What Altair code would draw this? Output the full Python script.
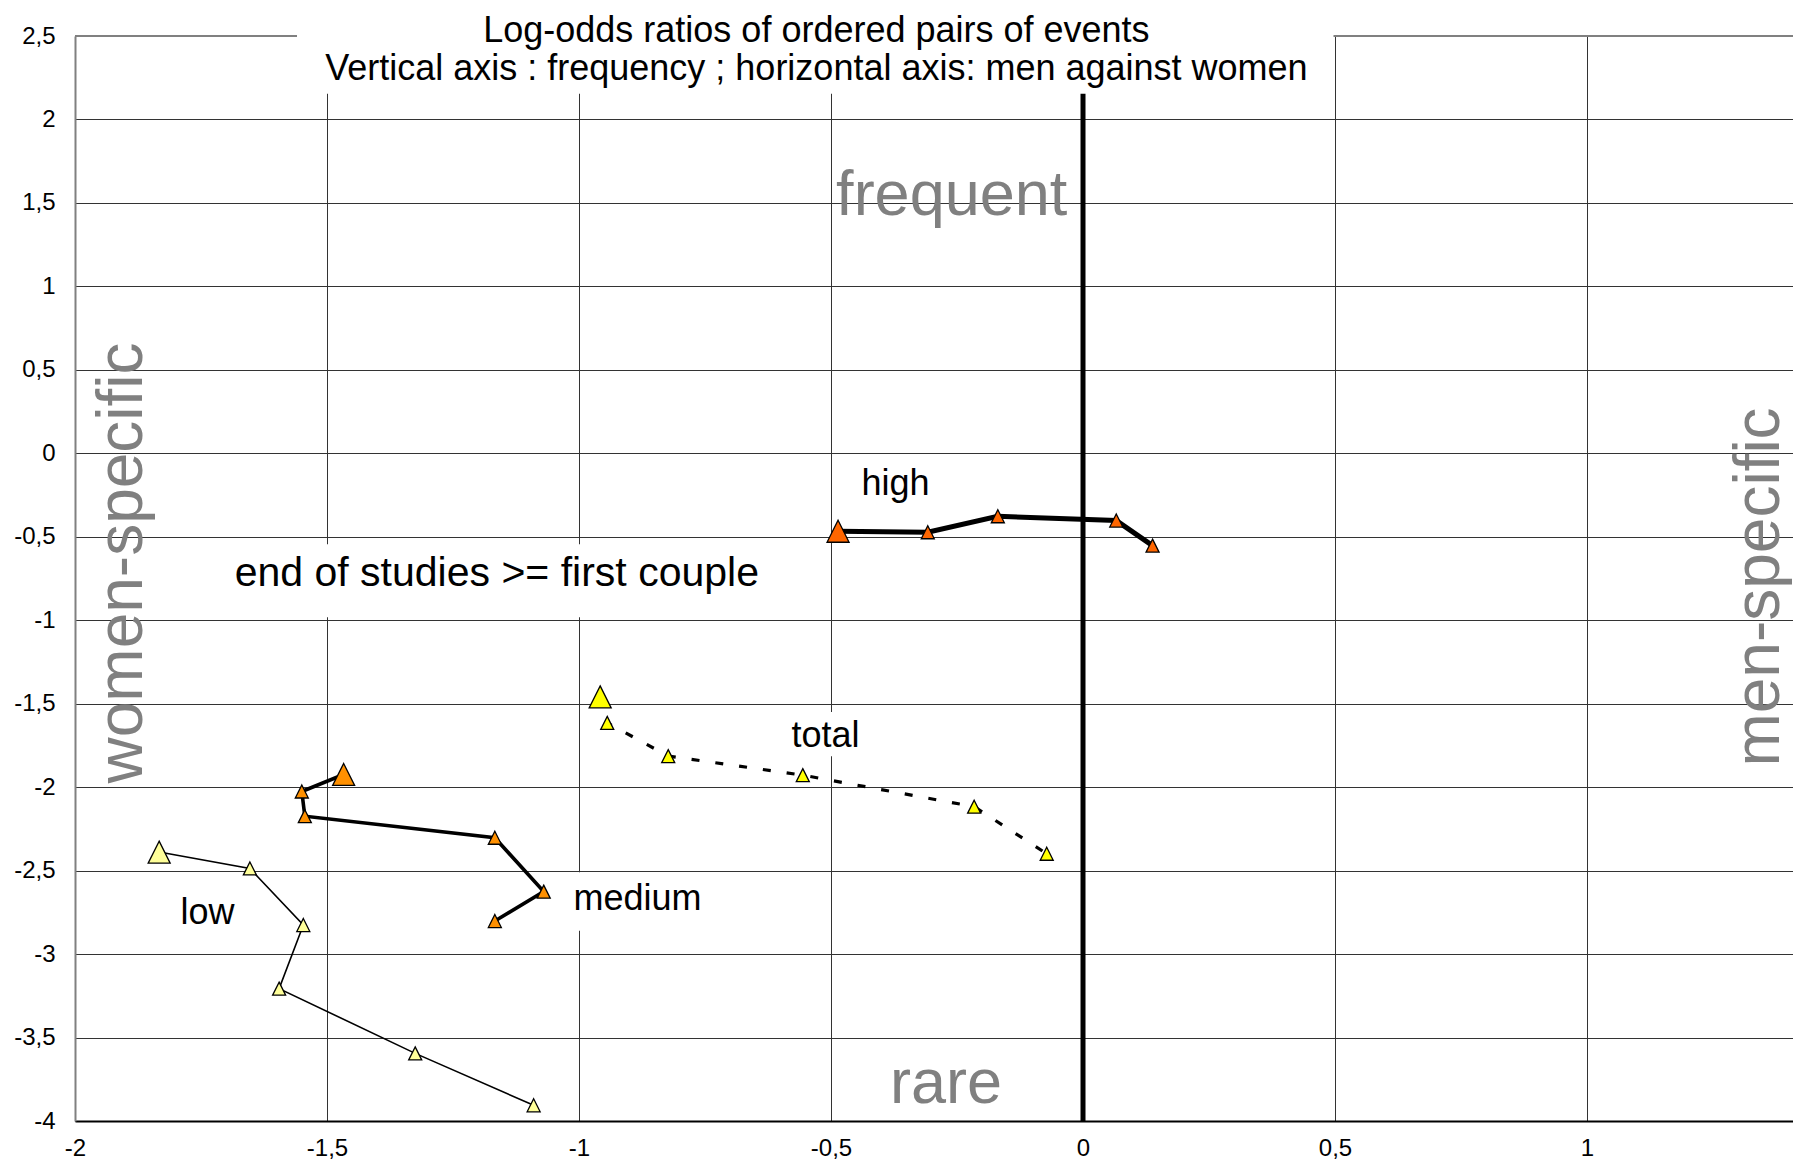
import altair as alt
import pandas as pd

# ---- data ----
high_x = [-0.486, -0.308, -0.169, 0.066, 0.138]
high_y = [-0.467, -0.473, -0.377, -0.403, -0.553]
medium_x = [-1.467, -1.550, -1.544, -1.167, -1.070, -1.167]
medium_y = [-1.924, -2.026, -2.174, -2.303, -2.626, -2.802]
low_x = [-1.833, -1.653, -1.547, -1.595, -1.325, -1.090]
low_y = [-2.389, -2.487, -2.826, -3.207, -3.595, -3.906]
total_x = [-0.958, -0.944, -0.823, -0.556, -0.216, -0.072]
total_y = [-1.459, -1.615, -1.814, -1.928, -2.117, -2.399]

x_ticks = [-2, -1.5, -1, -0.5, 0, 0.5, 1]
y_ticks = [2.5, 2, 1.5, 1, 0.5, 0, -0.5, -1, -1.5, -2, -2.5, -3, -3.5, -4]

title_lines = ["Log-odds ratios of ordered pairs of events",
               "Vertical axis : frequency ; horizontal axis: men against women"]
title_x = [-0.529, -0.529]
title_y = [2.465, 2.238]

label_text = ["high", "total", "medium", "low"]
label_x = [-0.372, -0.511, -0.884, -1.737]
label_y = [-0.247, -1.758, -2.738, -2.818]

cond_text = ["end of studies >= first couple"]
cond_x = [-1.163]
cond_y = [-0.796]

freq_text = ["frequent", "rare"]
freq_x = [-0.2605, -0.272]
freq_y = [1.429, -3.894]

side_text = ["women-specific", "men-specific"]
side_x = [-1.867, 1.381]
side_y = [-0.657, -0.801]

# white backgrounds behind the annotations (data units)
box_x = [-1.5595, -1.70, -0.60, -1.036]
box_x2 = [0.497, -0.62, -0.42, -0.734]
box_y = [2.154, -0.982, -1.815, -2.86]
box_y2 = [2.52, -0.545, -1.55, -2.51]

X_MIN, X_MAX = -2.0, 1.4087
Y_MIN, Y_MAX = -4.0, 2.5
FONT = "Liberation Sans"
TRI = "M0,-1L1,1L-1,1Z"

label_expr = "replace(replace(datum.label, '.', ','), '\u2212', '-')"

xscale = alt.Scale(domain=[X_MIN, X_MAX], nice=False, zero=False)
yscale = alt.Scale(domain=[Y_MIN, Y_MAX], nice=False, zero=False)

xaxis = alt.Axis(values=x_ticks, format=".1~f", labelExpr=label_expr, grid=True,
                 ticks=False, title=None, domainColor="#000000", domainWidth=2,
                 labelPadding=27, labelFontSize=24, labelFont=FONT, labelColor="#000000",
                 gridColor="#333333", gridWidth=1, labelBaseline="middle",
                 labelFlush=False, labelOverlap=False)
yaxis = alt.Axis(values=y_ticks, format=".1~f", labelExpr=label_expr, grid=True,
                 ticks=False, title=None, domainColor="#808080", domainWidth=2,
                 labelPadding=20, labelFontSize=24, labelFont=FONT, labelColor="#000000",
                 gridColor="#333333", gridWidth=1, labelFlush=False, labelOverlap=False)

X = alt.X("x:Q", scale=xscale, axis=xaxis)
Y = alt.Y("y:Q", scale=yscale, axis=yaxis)

# top border
top_border = alt.Chart(pd.DataFrame({"x": [X_MIN], "x2": [X_MAX], "y": [Y_MAX]})).mark_rule(
    color="#808080", strokeWidth=2).encode(x=X, x2="x2:Q", y=Y)

# zero line
zero_line = alt.Chart(pd.DataFrame({"x": [0.0], "y": [Y_MIN], "y2": [Y_MAX]})).mark_rule(
    color="#000000", strokeWidth=5).encode(x=X, y=Y, y2="y2:Q")

boxes = alt.Chart(pd.DataFrame({"x": box_x, "x2": box_x2, "y": box_y, "y2": box_y2})).mark_rect(
    color="white").encode(x=X, x2="x2:Q", y=Y, y2="y2:Q")


def sdf(xs, ys):
    return pd.DataFrame({"x": xs, "y": ys, "i": list(range(len(xs)))})


def line(xs, ys, width, dash=None):
    kw = dict(color="#000000", strokeWidth=width)
    if dash:
        kw["strokeDash"] = dash
    return alt.Chart(sdf(xs, ys)).mark_line(**kw).encode(x=X, y=Y, order="i:Q")


def pts(xs, ys, fill):
    return alt.Chart(sdf(xs, ys)).mark_point(
        shape=TRI, filled=True, fill=fill, stroke="#000000", strokeWidth=1.3, opacity=1
    ).encode(x=X, y=Y, size=alt.condition("datum.i == 0", alt.value(484), alt.value(169)))


lines = [
    line(low_x, low_y, 1.6),
    line(medium_x, medium_y, 3.6),
    line(total_x, total_y, 3.2, [8, 16]),
    line(high_x, high_y, 5),
]
points = [
    pts(low_x, low_y, "#FFFF99"),
    pts(medium_x, medium_y, "#FF9000"),
    pts(total_x, total_y, "#FFFF00"),
    pts(high_x, high_y, "#FF6600"),
]

titles = alt.Chart(pd.DataFrame({"x": title_x, "y": title_y, "t": title_lines})).mark_text(
    font=FONT, fontSize=36, color="#000000", align="center", baseline="alphabetic"
).encode(x=X, y=Y, text="t:N")

labels = alt.Chart(pd.DataFrame({"x": label_x, "y": label_y, "t": label_text})).mark_text(
    font=FONT, fontSize=36, color="#000000", align="center", baseline="alphabetic"
).encode(x=X, y=Y, text="t:N")

cond = alt.Chart(pd.DataFrame({"x": cond_x, "y": cond_y, "t": cond_text})).mark_text(
    font=FONT, fontSize=41, color="#000000", align="center", baseline="alphabetic"
).encode(x=X, y=Y, text="t:N")

freq = alt.Chart(pd.DataFrame({"x": freq_x, "y": freq_y, "t": freq_text})).mark_text(
    font=FONT, fontSize=63, color="#808080", align="center", baseline="alphabetic"
).encode(x=X, y=Y, text="t:N")

side = alt.Chart(pd.DataFrame({"x": side_x, "y": side_y, "t": side_text})).mark_text(
    font=FONT, fontSize=64, color="#808080", align="center", baseline="alphabetic", angle=270
).encode(x=X, y=Y, text="t:N")

chart = alt.layer(
    top_border, zero_line, freq, side, boxes, *lines, *points, titles, labels, cond
).properties(
    width=1718, height=1085,
    padding={"left": 67, "top": 28, "right": 0, "bottom": 45},
    autosize=alt.AutoSizeParams(type="none"),
).configure_view(stroke=None).configure(background="white")

chart.save("out.html", embed_options={"renderer": "svg", "actions": False})
